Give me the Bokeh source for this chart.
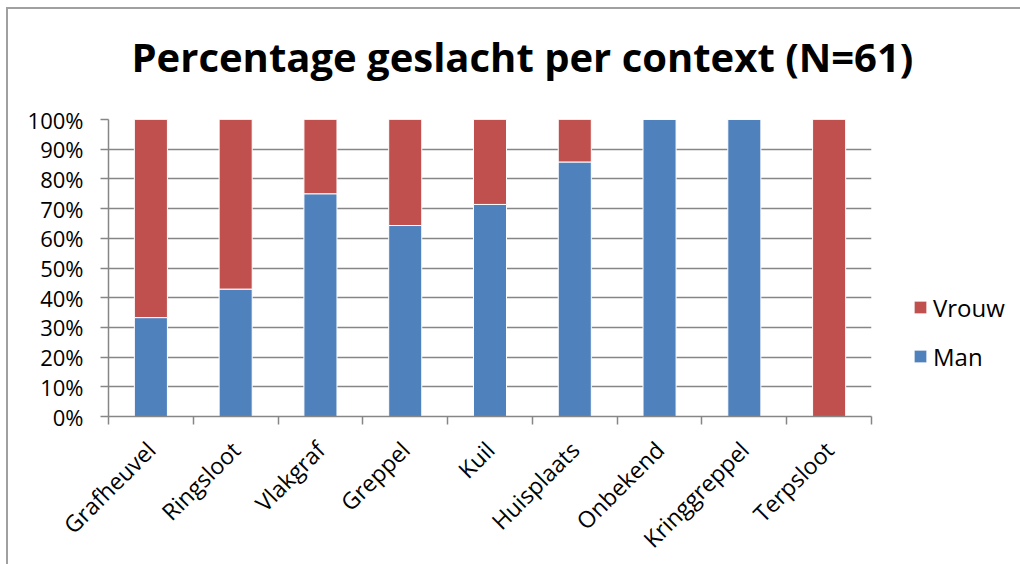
import math
from bokeh.plotting import figure
from bokeh.models import (Range1d, FixedTicker, NumeralTickFormatter, Legend,
                          LegendItem, ColumnDataSource, Title)
from bokeh.embed import file_html
from bokeh.resources import INLINE

categories = ["Grafheuvel", "Ringsloot", "Vlakgraf", "Greppel", "Kuil",
              "Huisplaats", "Onbekend", "Kringgreppel", "Terpsloot"]
man = [0.333, 0.429, 0.75, 0.643, 0.714, 0.857, 1.0, 1.0, 0.0]
vrouw = [0.667, 0.571, 0.25, 0.357, 0.286, 0.143, 0.0, 0.0, 1.0]
y_ticks = [0, 0.1, 0.2, 0.3, 0.4, 0.5, 0.6, 0.7, 0.8, 0.9, 1.0]

BLUE = "#4F81BD"
RED = "#C0504D"
GRID = "#868686"
FONT = "Open Sans"

n = len(categories)
centers = [i + 0.5 for i in range(n)]
bounds = list(range(n + 1))

src = ColumnDataSource(dict(x=centers, man=man, vrouw=vrouw,
                            top_v=[m + v for m, v in zip(man, vrouw)]))

p = figure(width=1004, height=548, output_backend="svg", toolbar_location=None,
           x_range=Range1d(0, n), y_range=Range1d(0, 1),
           frame_width=763, frame_height=297,
           min_border_left=100, min_border_right=141, min_border_top=110,
           min_border_bottom=141)
p.outline_line_color = None
p.background_fill_color = "white"
p.border_fill_color = "white"
p.styles = {"margin-left": "6px", "margin-top": "7px",
            "border-left": "2px solid #a0a0a0", "border-top": "2px solid #a0a0a0"}

# spacer between title and plot area
spacer = Title(text=" ", text_font=FONT, text_font_size="10px", standoff=20)
p.add_layout(spacer, "above")
t = Title(text="Percentage geslacht per context (N=61)", align="left", offset=23,
          text_font=FONT, text_font_style="bold", text_font_size="40px",
          text_color="black", standoff=0)
p.add_layout(t, "above")

man_r = p.vbar(x="x", bottom=0, top="man", width=0.39, source=src,
               fill_color=BLUE, line_color="white", line_width=1)
vrouw_r = p.vbar(x="x", bottom="man", top="top_v", width=0.39, source=src,
                 fill_color=RED, line_color="white", line_width=1)

# x axis
xa = p.xaxis[0]
xa.ticker = FixedTicker(ticks=centers, minor_ticks=bounds)
xa.major_label_overrides = {c: name for c, name in zip(centers, categories)}
xa.major_label_orientation = math.pi / 4
xa.major_tick_out = 0
xa.major_tick_in = 0
xa.minor_tick_out = 8
xa.minor_tick_in = 0
xa.minor_tick_line_color = GRID
xa.axis_line_color = GRID
xa.axis_line_width = 1.5
xa.minor_tick_line_width = 1.5
xa.major_label_text_font = FONT
xa.major_label_text_font_size = "23px"
xa.major_label_text_color = "black"
xa.major_label_standoff = 21
p.xgrid.grid_line_color = None

ya = p.yaxis[0]
ya.ticker = FixedTicker(ticks=y_ticks)
ya.formatter = NumeralTickFormatter(format="0%")
ya.major_tick_out = 8
ya.major_tick_in = 0
ya.minor_tick_line_color = None
ya.major_tick_line_color = GRID
ya.major_tick_line_width = 1.5
ya.axis_line_color = GRID
ya.axis_line_width = 1.5
ya.major_label_text_font = FONT
ya.major_label_text_font_size = "22px"
ya.major_label_text_color = "black"
ya.major_label_standoff = 17
p.ygrid.grid_line_color = GRID
p.ygrid.grid_line_width = 1.5

legend = Legend(items=[LegendItem(label="Vrouw", renderers=[vrouw_r]),
                       LegendItem(label="Man", renderers=[man_r])],
                location="bottom_left", orientation="vertical",
                glyph_width=16, glyph_height=16, label_height=38,
                label_standoff=5, spacing=11, padding=4, margin=41,
                border_line_color=None, background_fill_alpha=0,
                label_text_font=FONT, label_text_font_size="24px",
                label_text_color="black")
p.add_layout(legend, "right")

open("out.html", "w").write(file_html(p, INLINE))
